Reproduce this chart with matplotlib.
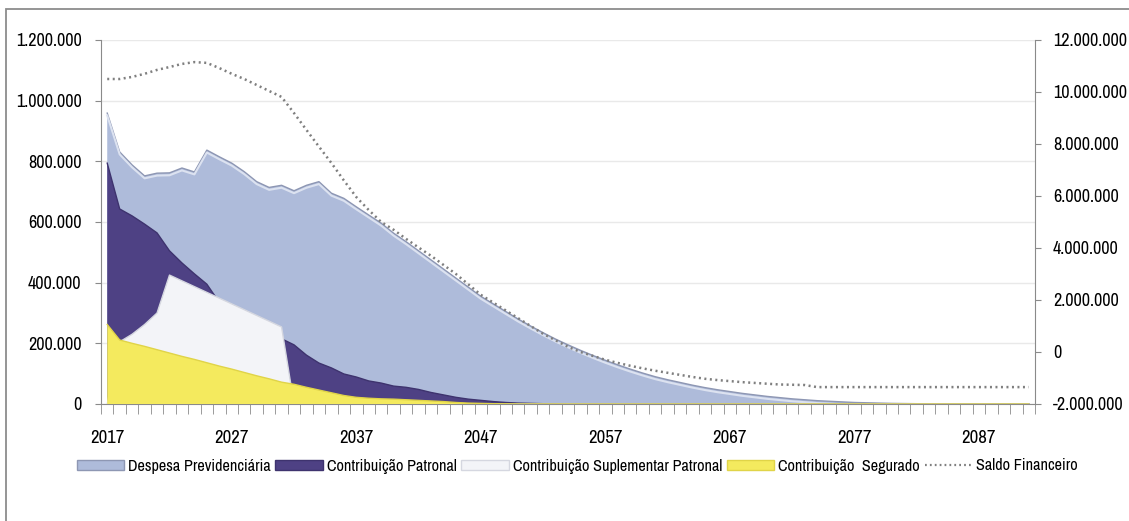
import matplotlib
matplotlib.use('Agg')
import matplotlib.pyplot as plt
from matplotlib.patches import Patch, Rectangle
from matplotlib.lines import Line2D
import numpy as np

plt.rcParams['font.family'] = ['Archivo Narrow', 'Liberation Sans', 'DejaVu Sans']

# anos (categorias)
anos = list(range(2017, 2092))

# valores em milhares (eixo esquerdo)
despesa = [959, 831, 788, 752, 761, 762, 778, 765, 837, 815,
           794, 766, 733, 714, 721, 703, 721, 733, 695, 678,
           650, 623, 596, 563, 535, 505, 475, 445, 415, 385,
           355, 330, 305, 280, 257, 235, 214, 195, 177, 160,
           144, 129, 115, 102, 90, 80, 71, 62, 54, 47,
           41, 35, 30, 25, 21, 17, 14, 11, 9, 7,
           5, 4, 3, 2, 1.5, 1, 0.5, 0.3, 0.2, 0.1,
           0.1, 0, 0, 0, 0]
patronal = [794, 643, 620, 593, 564, 505, 465, 429, 395, 335,
            310, 285, 260, 237, 215, 195, 161, 135, 119, 99,
            89, 76, 69, 59, 55, 48, 38, 30, 22, 16,
            12, 8, 5, 3, 2, 1, 0.5] + [0] * 38
suplementar = [0, 205, 230, 262, 300, 425, 406, 387, 368, 349,
               330, 311, 292, 273, 254, 0] + [0] * 59
segurado = [262, 211, 200, 190, 179, 168, 157, 147, 136, 125,
            115, 104, 93, 83, 72, 65, 55, 46, 37, 28,
            22, 19, 17, 16, 14, 12, 10, 8, 5, 3,
            2, 1, 0.5] + [0] * 42

# saldo financeiro em milhões (eixo direito)
saldo = [10.50, 10.50, 10.58, 10.70, 10.85, 10.96, 11.08, 11.15, 11.12, 10.92,
         10.70, 10.50, 10.27, 10.04, 9.81, 9.19, 8.54, 7.90, 7.27, 6.60,
         5.96, 5.46, 5.00, 4.70, 4.35, 4.02, 3.70, 3.35, 3.00, 2.60,
         2.20, 1.90, 1.60, 1.30, 1.00, 0.70, 0.45, 0.20, 0.00, -0.15,
         -0.30, -0.42, -0.53, -0.63, -0.72, -0.80, -0.88, -0.96, -1.03, -1.08,
         -1.12, -1.16, -1.19, -1.22, -1.25, -1.26, -1.27] + [-1.35] * 18

rotulos = ['Despesa Previdenciária', 'Contribuição Patronal',
           'Contribuição Suplementar Patronal', 'Contribuição  Segurado',
           'Saldo Financeiro']
cores = ['#AEBBDA', '#4E4184', '#F3F4F8', '#F4EA5E']
bordas = ['#8E97B3', '#3E336E', '#D5D7E0', '#E0D448']

x = np.arange(len(anos))
series = [np.array(despesa) * 1000, np.array(patronal) * 1000,
          np.array(suplementar) * 1000, np.array(segurado) * 1000]

fig = plt.figure(figsize=(11.29, 5.21), dpi=100)
ax = fig.add_axes([101 / 1129, 1 - 404 / 521, (1035 - 101) / 1129, (404 - 40) / 521])
ax2 = ax.twinx()

for i, s in enumerate(series):
    ax.fill_between(x, 0, s, facecolor=cores[i], edgecolor='none', zorder=2 + i)
    ax.plot(x, s, color=bordas[i], lw=1.0, zorder=2 + i)
# realce claro no topo da despesa
ax.plot(x, series[0] - 8000, color='#DCE2F0', lw=1.5, zorder=2.5)

ax2.plot(x, np.array(saldo) * 1e6, color='#7F7F7F', lw=1.8,
         linestyle=(0, (0.8, 1.4)), zorder=10)

fmt = lambda v: f'{v:,.0f}'.replace(',', '.')

ax.set_xlim(-0.5, len(anos) - 0.5)
ax.set_ylim(0, 1200000)
yt = np.arange(0, 1200001, 200000)
ax.set_yticks(yt)
ax.set_yticklabels([fmt(v) for v in yt])
ax.grid(axis='y', color='#E9E9E9', lw=1, zorder=0)
ax.set_axisbelow(True)

ax2.set_ylim(-2000000, 12000000)
yt2 = np.arange(-2000000, 12000001, 2000000)
ax2.set_yticks(yt2)
ax2.set_yticklabels([fmt(v) for v in yt2])

ax.set_xticks(x[::10])
ax.set_xticklabels([str(a) for a in anos[::10]])
ax.set_xticks(np.arange(-0.5, len(anos), 1), minor=True)
ax.tick_params(axis='x', which='major', length=0, pad=19, labelsize=13.5)
ax.tick_params(axis='x', which='minor', length=7, color='#8A8A8A', direction='out')
ax.tick_params(axis='y', length=4, color='#8A8A8A', pad=10, labelsize=13)
ax2.tick_params(axis='y', length=4, color='#8A8A8A', pad=9, labelsize=13)

for a in (ax, ax2):
    a.spines['top'].set_visible(False)
    for k in ('left', 'right', 'bottom'):
        a.spines[k].set_color('#8A8A8A')
ax.spines['right'].set_visible(False)
ax2.spines['left'].set_visible(False)
ax2.spines['bottom'].set_visible(False)

handles = [Patch(facecolor=cores[i], edgecolor=bordas[i], lw=1) for i in range(4)]
handles.append(Line2D([0], [0], color='#7F7F7F', lw=1.6, linestyle=(0, (0.8, 1.4))))
fig.legend(handles, rotulos, ncol=5, frameon=False, loc='center',
           bbox_to_anchor=(577 / 1129, 1 - 466 / 521), fontsize=11.7,
           handlelength=2.9, handleheight=0.55, handletextpad=0.25,
           columnspacing=0.3)

# moldura externa
fig.patches.append(Rectangle((6 / 1129, -0.2), 1.2, 1.2 + (1 - 9 / 521) - 1,
                             transform=fig.transFigure, fill=False,
                             edgecolor='#8C8C8C', lw=1.3))

fig.savefig('out.png', dpi=100)
